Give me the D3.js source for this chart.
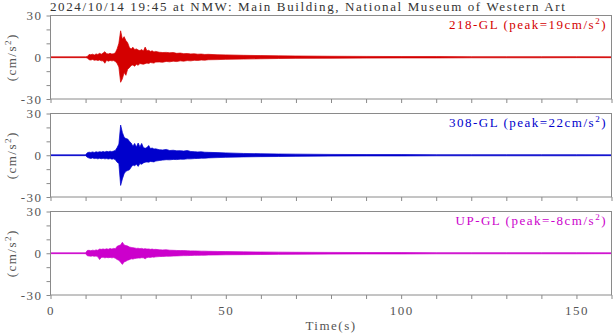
<!DOCTYPE html>
<html><head><meta charset="utf-8">
<script src="https://cdn.jsdelivr.net/npm/d3@7"></script>
<style>
body{margin:0;background:#fff;}
svg{display:block;}
svg text{font-family:"Liberation Serif","Times New Roman","DejaVu Serif",serif;letter-spacing:1.5px;}
</style></head>
<body><div id="chart"></div>
<script>
const title = "2024/10/14 19:45 at NMW: Main Building, National Museum of Western Art";
const seriesNames = ["218-GL", "308-GL", "UP-GL"];
const peaks = ["19", "22", "-8"];
const seriesColors = ["#d40000", "#0000cc", "#cc00cc"];
const xTicks = [0, 50, 100, 150];
const yTicks = [30, 0, -30];

const times = [0,5,10,10.5,11,11.5,12,12.5,13,13.5,14,14.5,15,15.5,16,16.5,17,17.5,18,18.5,19,19.5,20,20.5,21,21.5,22,22.5,23,23.5,24,24.5,25,25.5,26,26.5,27,27.5,28,28.5,29,29.5,30,31,32,33,34,35,36,37,38,39,40,41,42,43,44,45,47.5,50,55,60,65,70,80,90,100,110,120,130,140,150,160];

const redHi = [0.3,0.3,0.3,0.5,2,1.8,2.2,1.6,2.4,2,2.8,2.2,3,4,2.6,2.4,2.8,2.3,2.6,3.2,6,10,19,13,14.8,12,10.5,7,6,7.2,5.5,6,5.2,4.8,5.5,4.5,7.3,4.6,5,4.2,4.6,3.8,4.2,3.6,3.4,3.5,3.2,3.4,2.8,3,2.6,2.7,2.4,2.5,2.2,2.3,2,2.1,1.8,1.7,1.4,1.2,1,0.9,0.7,0.6,0.5,0.5,0.4,0.4,0.4,0.4,0.3];
const redLo = [-0.3,-0.3,-0.3,-0.5,-1.8,-2,-1.6,-2.2,-1.9,-2.3,-2,-2.6,-2.5,-4.3,-2.2,-2.8,-2.3,-2.6,-2.4,-3,-4.5,-7,-18,-15.5,-11,-13,-8.6,-7.5,-6,-5.5,-6.5,-5,-5.8,-4.5,-4.8,-5,-4.6,-4.2,-4.5,-3.8,-4,-4.2,-3.5,-3.4,-3.6,-3,-3.3,-2.8,-3.1,-2.6,-2.8,-2.4,-2.6,-2.2,-2.3,-2,-2.1,-1.8,-1.7,-1.5,-1.3,-1.1,-0.9,-0.8,-0.7,-0.6,-0.5,-0.5,-0.4,-0.4,-0.4,-0.3,-0.3];

const blueHi = [0.3,0.3,0.3,1.8,2.2,2,2.4,2,2.5,2.2,2.6,2.3,2.7,2.3,2.8,2.5,2.9,2.6,3,3.5,5.5,8,21.7,16.4,13,12,11.7,10,8.8,6.5,8.5,6,8.8,6,8.5,5.5,5,5.5,7,4.8,5.2,4.5,4.6,4,3.8,4.2,3.4,3.6,3.2,3.3,3,3.4,2.7,2.6,2.4,2.5,2.2,2.1,1.9,1.7,1.3,1.1,0.9,0.8,0.6,0.5,0.5,0.4,0.4,0.4,0.4,0.4,0.3];
const blueLo = [-0.3,-0.3,-0.3,-1.5,-2,-2.3,-1.9,-2.4,-2.1,-2.6,-2.2,-2.5,-2.2,-2.6,-2.4,-2.7,-2.4,-2.8,-2.6,-3.2,-5,-6,-21.7,-17,-13.3,-11.5,-11,-10.5,-8.6,-7,-7.5,-6.5,-8,-6,-6.5,-5.5,-5,-4.8,-5,-4.5,-4.6,-4.8,-4.2,-3.8,-3.5,-3.2,-3.3,-3,-3.1,-2.8,-2.9,-2.6,-2.6,-2.4,-2.3,-2.1,-2.1,-1.9,-1.7,-1.5,-1.2,-1,-0.9,-0.8,-0.6,-0.5,-0.5,-0.4,-0.4,-0.4,-0.4,-0.4,-0.3];

const magHi = [0.3,0.3,0.3,2,2.1,1.8,2.2,2,2.4,2.1,3,2.8,3.1,2.8,3.2,2.9,3.4,3,3.5,3.3,5,5.5,6,7.9,6,5.5,5.2,4.5,4.2,4,3.8,3.5,3.6,3.3,3.5,3.1,3.3,3,3.1,2.8,3,2.7,2.8,2.5,2.4,2.5,2.2,2.1,2,1.9,1.9,1.8,1.7,1.7,1.6,1.5,1.5,1.4,1.3,1.2,1,0.9,0.8,0.7,0.6,0.5,0.5,0.4,0.4,0.4,0.4,0.4,0.3];
const magLo = [-0.3,-0.3,-0.3,-1.8,-2,-2.1,-1.9,-2.2,-2,-2.6,-4.5,-3,-2.8,-3.3,-3,-3.2,-3,-3.3,-3.1,-3.6,-4.5,-5,-6.5,-8,-6.2,-5.8,-5,-4.6,-4,-4.2,-3.8,-3.6,-3.4,-3.5,-3.2,-3.3,-4,-3.1,-2.9,-3,-2.7,-2.8,-2.6,-2.4,-2.3,-2.1,-2.1,-2,-1.9,-1.8,-1.7,-1.7,-1.6,-1.5,-1.5,-1.4,-1.4,-1.3,-1.2,-1.1,-1,-0.9,-0.8,-0.7,-0.6,-0.5,-0.5,-0.4,-0.4,-0.4,-0.4,-0.4,-0.3];

const hiArrays = [redHi, blueHi, magHi];
const loArrays = [redLo, blueLo, magLo];

const W = 613, H = 334;
const left = 50.5, right = 611.5;
const panelTops = [15.5, 113.5, 211.5];
const panelH = 83.5;
const axisColor = "#8a8a8a";
const textColor = "#555";
const fs = 13;
const serif = "Liberation Serif, Times New Roman, DejaVu Serif, serif";

const svg = d3.select("#chart").append("svg").attr("width", W).attr("height", H)
  .attr("font-family", serif);

const x = d3.scaleLinear().domain([0, 160]).range([left, right]);

svg.append("text").attr("x", 50).attr("y", 10.5).attr("font-size", fs)
  .attr("font-family", serif).attr("fill", "#333").style("letter-spacing", "1.62px").text(title);

seriesNames.forEach((name, i) => {
  const top = panelTops[i];
  const y = d3.scaleLinear().domain([-30, 30]).range([top + panelH, top]);
  const g = svg.append("g");

  const rows = times.map((t, k) => ({ t, hi: hiArrays[i][k], lo: loArrays[i][k] }));
  g.append("path").datum(rows)
    .attr("d", d3.area().x(d => x(d.t)).y0(d => y(d.lo)).y1(d => y(d.hi)))
    .attr("fill", seriesColors[i]).attr("stroke", seriesColors[i]).attr("stroke-width", 0.7);

  g.append("rect").attr("x", left).attr("y", top).attr("width", right - left).attr("height", panelH)
    .attr("fill", "none").attr("stroke", axisColor).attr("stroke-width", 1);

  const xa = d3.axisBottom(x).tickValues(d3.range(0, 161, 10)).tickSize(4).tickPadding(7)
    .tickFormat(d => (i === 2 && xTicks.includes(d)) ? d : "");
  const gx = g.append("g").attr("transform", `translate(0,${top + panelH})`).call(xa);
  gx.attr("font-family", serif);
  gx.select(".domain").remove();
  gx.selectAll("line").attr("stroke", axisColor);
  gx.selectAll("text").attr("font-size", fs).attr("fill", textColor).attr("font-family", serif);

  const ya = d3.axisLeft(y).tickValues(d3.range(-30, 31, 10)).tickSize(4).tickPadding(4)
    .tickFormat(d => yTicks.includes(d) ? d : "");
  const gy = g.append("g").attr("transform", `translate(${left},0)`).call(ya);
  gy.attr("font-family", serif);
  gy.select(".domain").remove();
  gy.selectAll("line").attr("stroke", axisColor);
  gy.selectAll("text").attr("font-size", fs).attr("fill", textColor).attr("font-family", serif);

  const lt = g.append("text").attr("x", 607).attr("y", top + 13).attr("text-anchor", "end")
    .attr("font-size", fs).attr("font-family", serif).attr("fill", seriesColors[i]);
  lt.append("tspan").text(`${name} (peak=${peaks[i]}cm/s`);
  lt.append("tspan").attr("dy", -5).attr("font-size", 9).text("2");
  lt.append("tspan").attr("dy", 5).text(")");

  const yl = g.append("text").attr("transform", `translate(16,${top + panelH / 2}) rotate(-90)`)
    .attr("text-anchor", "middle").attr("font-size", fs).attr("font-family", serif).attr("fill", textColor);
  yl.append("tspan").text("(cm/s");
  yl.append("tspan").attr("dy", -5).attr("font-size", 9).text("2");
  yl.append("tspan").attr("dy", 5).text(")");
});

svg.append("text").attr("x", (left + right) / 2).attr("y", 330).attr("text-anchor", "middle")
  .attr("font-size", fs).attr("font-family", serif).attr("fill", textColor).text("Time(s)");
</script></body></html>
